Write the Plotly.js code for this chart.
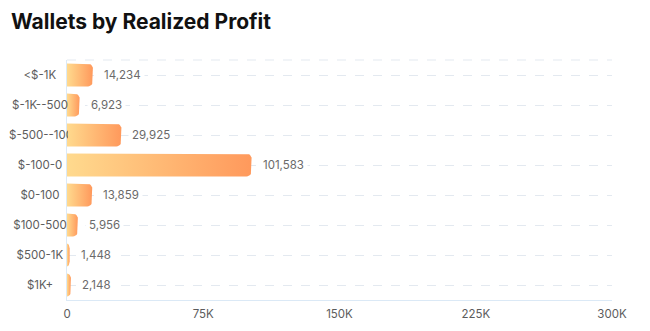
<!DOCTYPE html>
<html>
<head>
<meta charset="utf-8">
<script src="https://cdn.plot.ly/plotly-3.0.1.min.js"></script>
<style>html,body{margin:0;padding:0;background:#fff;}#chart{width:650px;height:331px;}</style>
</head>
<body>
<div id="chart"></div>
<script>
var categories = ['<$-1K', '$-1K--500', '$-500--100', '$-100-0', '$0-100', '$100-500', '$500-1K', '$1K+'];
var wallets = [14234, 6923, 29925, 101583, 13859, 5956, 1448, 2148];
var xTickVals = [0, 75000, 150000, 225000, 300000];
var xTickText = ['0', '75K', '150K', '225K', '300K'];

var W = 650, H = 331;
var M = {l: 67, r: 38, t: 60, b: 31};
var XMAX = 300000;
var plotW = W - M.l - M.r, plotH = H - M.t - M.b;
var bandPx = plotH / categories.length;
var halfBar = 0.38;           // half bar thickness in category units
var radiusPx = 5;             // corner radius of the bar tip
var font = 'Inter, "Open Sans", sans-serif';

function barOutline(v, i) {
  var rx = Math.min(radiusPx * XMAX / plotW, v);
  var ry = radiusPx / bandPx;
  var xs = [0], ys = [i - halfBar];
  var n = 6, k;
  for (k = 0; k <= n; k++) {
    var a = -Math.PI / 2 + (Math.PI / 2) * k / n;
    xs.push(v - rx + rx * Math.cos(a));
    ys.push(i - halfBar + ry + ry * Math.sin(a));
  }
  for (k = 0; k <= n; k++) {
    var b = (Math.PI / 2) * k / n;
    xs.push(v - rx + rx * Math.cos(b));
    ys.push(i + halfBar - ry + ry * Math.sin(b));
  }
  xs.push(0); ys.push(i + halfBar);
  xs.push(0); ys.push(i - halfBar);
  return {x: xs, y: ys};
}

var traces = wallets.map(function (v, i) {
  var o = barOutline(v, i);
  return {
    type: 'scatter', mode: 'lines', x: o.x, y: o.y,
    fill: 'toself', line: {width: 0, color: 'rgba(0,0,0,0)'},
    fillcolor: '#FFB673',
    fillgradient: {type: 'horizontal', colorscale: [[0, '#FFDA8E'], [1, '#FF995C']]},
    hoverinfo: 'skip', showlegend: false
  };
});

var annotations = [];
wallets.forEach(function (v, i) {
  annotations.push({
    x: v, y: i, xref: 'x', yref: 'y', xanchor: 'left', yanchor: 'middle',
    xshift: 7, text: v.toLocaleString('en-US'), showarrow: false,
    bgcolor: '#ffffff', borderpad: 3,
    font: {family: font, size: 11.5, color: '#6a6a6a'}
  });
});
categories.forEach(function (c, i) {
  var long = c.length > 9;
  annotations.push({
    x: long ? -59 / plotW : -27 / plotW, y: i, xref: 'paper', yref: 'y',
    xanchor: long ? 'left' : 'center', yanchor: 'middle',
    width: long ? 59 : 60, align: long ? 'left' : 'center',
    text: c, showarrow: false, borderpad: 0,
    font: {family: font, size: 11.5, color: '#5c5c5c'}
  });
});

var layout = {
  width: W, height: H,
  margin: M,
  paper_bgcolor: '#ffffff', plot_bgcolor: '#ffffff',
  title: {
    text: '<b>Wallets by Realized Profit</b>',
    x: 11 / W, xref: 'container', xanchor: 'left',
    y: 1 - 22 / H, yref: 'container', yanchor: 'middle',
    font: {family: font, size: 21, color: '#111'}
  },
  xaxis: {
    range: [0, XMAX], tickvals: xTickVals, ticktext: xTickText,
    showgrid: false, zeroline: false, showline: true, linecolor: '#dbe9f6', linewidth: 1,
    ticks: '', ticklabelstandoff: 3,
    tickfont: {family: font, size: 11.5, color: '#5c5c5c'}, fixedrange: true
  },
  yaxis: {
    range: [categories.length - 0.5, -0.5],
    tickvals: categories.map(function (c, i) { return i; }),
    showticklabels: false, ticks: '',
    showgrid: true, gridcolor: '#e3e9f0', griddash: 'dash', gridwidth: 1,
    zeroline: false, showline: true, linecolor: '#dbe9f6', linewidth: 1,
    fixedrange: true
  },
  shapes: [{
    type: 'line', xref: 'paper', yref: 'paper', x0: 0, x1: 1, y0: 1, y1: 1,
    line: {color: '#e3e9f0', width: 1, dash: 'dash'}, layer: 'below'
  }],
  annotations: annotations,
  showlegend: false
};

Plotly.newPlot('chart', traces, layout, {displayModeBar: false, staticPlot: true});
</script>
</body>
</html>
